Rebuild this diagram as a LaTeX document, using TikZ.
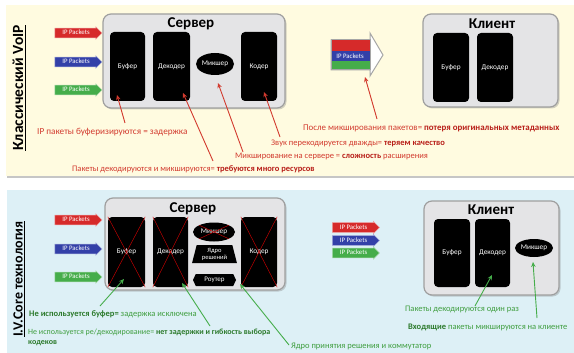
\documentclass[tikz,border=0pt]{standalone}
\usepackage{fontspec}
\setmainfont{Carlito}
\usetikzlibrary{shapes.geometric,shapes.symbols,shapes.arrows,shadows,arrows.meta}
\definecolor{cream}{HTML}{FFFBE0}
\definecolor{paleblue}{HTML}{DDF0F6}
\definecolor{boxgray}{HTML}{E4E4E6}
\definecolor{annred}{HTML}{D23A2E}
\definecolor{annredd}{HTML}{B81E18}
\definecolor{anngreen}{HTML}{3F9E3F}
\definecolor{anngreend}{HTML}{2C7A2C}
\definecolor{ipred}{HTML}{D62A2A}
\definecolor{ipblue}{HTML}{3340A8}
\definecolor{ipgreen}{HTML}{45AD4A}
\tikzset{
  srvbox/.style={draw=gray!75, line width=1.2pt, fill=boxgray, rounded corners=8pt,
    drop shadow={shadow xshift=1.5pt, shadow yshift=-1.5pt, opacity=0.35}},
  blk/.style={fill=black, rounded corners=4pt, text=white, inner sep=0pt,
    font=\fontsize{7.3}{8}\selectfont},
  blkell/.style={ellipse, fill=black, text=white, inner sep=0pt,
    font=\fontsize{7.3}{8}\selectfont},
  boxtitle/.style={font=\fontsize{15}{15}\selectfont\bfseries},
  ipa/.style={single arrow, single arrow head extend=1.2pt, single arrow head indent=0pt,
    minimum height=47pt, text height=5.6pt, text depth=1.8pt, inner ysep=1pt, inner xsep=2pt,
    text=white, font=\fontsize{6.8}{7}\selectfont, draw=white!55!#1, line width=0.5pt, fill=#1},
  anntext/.style={anchor=west, inner sep=0pt, font=\fontsize{8.5}{10}\selectfont},
  redann/.style={anntext, text=annred},
  greenann/.style={anntext, text=anngreen},
  redarr/.style={draw=annred, line width=0.9pt, -{Stealth[length=5pt,width=4.5pt]}},
  greenarr/.style={draw=ipgreen, line width=0.9pt, -{Stealth[length=5pt,width=4.5pt]}},
  xline/.style={draw=red!80!black, line width=0.45pt},
  vtitle/.style={rotate=90, font=\fontsize{14}{14}\selectfont\bfseries, inner sep=0pt}
}
\begin{document}
\begin{tikzpicture}[x=1pt,y=-1pt]
\useasboundingbox (0,0) rectangle (574,353);
\fill[white] (0,0) rectangle (574,353);
% panels
\fill[gray!45] (7,7) rectangle (574,178);
\fill[cream] (6,5) rectangle (574,176);
\fill[paleblue] (7,190) rectangle (574,353);

% titles
\node[vtitle, font=\fontsize{15.5}{15.5}\selectfont\bfseries] (ttl1) at (19,88) {\underline{Классический VoIP}};
\node[vtitle] (ttl2) at (19,279) {\underline{I.V.Core технология}};

% ===== TOP =====
\node[srvbox, minimum width=182pt, minimum height=94pt] (tsrv) at (194,61) {};
\node[boxtitle] (tsrvt) at (191,24) {Сервер};
\node[blk, minimum width=35pt, minimum height=69pt] (tbuf) at (127.5,66.5) {Буфер};
\node[blk, minimum width=37pt, minimum height=69pt] (tdec) at (171.5,66.5) {Декодер};
\node[blkell, minimum width=38pt, minimum height=22pt] (tmix) at (215,64) {Микшер};
\node[blk, minimum width=36pt, minimum height=69pt] (tcod) at (259,66.5) {Кодер};

\node[ipa=ipred] (tip1) at (76,33) {IP Packets\hspace{8pt}};
\node[ipa=ipblue] (tip2) at (76,62) {IP Packets\hspace{8pt}};
\node[ipa=ipgreen] (tip3) at (76,90) {IP Packets\hspace{8pt}};

\node[srvbox, minimum width=135pt, minimum height=93pt] (tcli) at (490.5,60.5) {};
\node[boxtitle] (tclit) at (492,24) {Клиент};
\node[blk, minimum width=36pt, minimum height=69pt] (tcbuf) at (451,67.5) {Буфер};
\node[blk, minimum width=36pt, minimum height=69pt] (tcdec) at (495,67.5) {Декодер};

% mixed packet arrow
\draw[gray!70, line width=1pt, fill=white] (331,40) -- (370,40) -- (370,33) -- (383,55) -- (370,76) -- (370,70) -- (331,70) -- cycle;
\fill[ipred] (331,40) rectangle (370,51.5);
\fill[ipblue] (331,51.5) rectangle (370,61);
\fill[ipgreen] (331,61) rectangle (370,70);
\draw[gray!70, line width=1pt] (331,40) rectangle (370,70);
\node[text=white, font=\fontsize{6.8}{7}\selectfont, inner sep=0pt] (mixpk) at (350,56.3) {IP Packets};

% top annotations
\node[redann, font=\fontsize{9.2}{10}\selectfont] (a1) at (37,132) {IP пакеты буферизируются = задержка};
\node[redann, font=\fontsize{8.9}{10}\selectfont] (a5) at (303,128) {После микширования пакетов= \textcolor{annredd}{\bfseries потеря оригинальных метаданных}};
\node[redann] (a4) at (271,143) {Звук перекодируется дважды= \textcolor{annredd}{\bfseries теряем качество}};
\node[redann] (a3) at (235,156) {Микширование на сервере = \textcolor{annredd}{\bfseries сложность} расширения};
\node[redann] (a2) at (72,169) {Пакеты декодируются и микшируются= \textcolor{annredd}{\bfseries требуются много ресурсов}};

\coordinate (r1s) at (125,123); \coordinate (r1e) at (117,95);
\coordinate (r2s) at (213,161); \coordinate (r2e) at (183,93);
\coordinate (r3s) at (243,152); \coordinate (r3e) at (218,83);
\coordinate (r4s) at (280,137); \coordinate (r4e) at (264,92);
\coordinate (r5s) at (377,119); \coordinate (r5e) at (365,77);
\draw[redarr] (r1s) -- (r1e);
\draw[redarr] (r2s) -- (r2e);
\draw[redarr] (r3s) -- (r3e);
\draw[redarr] (r4s) -- (r4e);
\draw[redarr] (r5s) -- (r5e);

% ===== BOTTOM =====
\node[srvbox, minimum width=180pt, minimum height=92pt] (bsrv) at (195,244) {};
\node[boxtitle] (bsrvt) at (193,209) {Сервер};
\node[blk, minimum width=37pt, minimum height=70pt] (bbuf) at (126.5,252) {Буфер};
\node[blk, minimum width=35pt, minimum height=70pt] (bdec) at (170.5,252) {Декодер};
\node[blkell, minimum width=42pt, minimum height=19pt] (bmix) at (214,232) {Микшер};
\node[trapezium, trapezium left angle=75, trapezium right angle=75, trapezium stretches=true,
  fill=black, text=white, inner sep=0pt, minimum width=45pt, minimum height=18pt,
  align=center, font=\fontsize{6.5}{7}\selectfont] (bcore) at (214.5,254) {Ядро\\решений};
\node[signal, signal to=west and east, signal pointer angle=130, fill=black, text=white,
  inner sep=0pt, minimum width=43pt, minimum height=12pt,
  font=\fontsize{7}{7}\selectfont] (brout) at (214.5,280) {Роутер};
\node[blk, minimum width=36pt, minimum height=70pt] (bcod) at (259,252) {Кодер};

% crosses
\draw[xline] (bbuf.north west) -- (bbuf.south east) (bbuf.north east) -- (bbuf.south west);
\draw[xline] (bdec.north west) -- (bdec.south east) (bdec.north east) -- (bdec.south west);
\draw[xline] (bcod.north west) -- (bcod.south east) (bcod.north east) -- (bcod.south west);
\draw[xline] (bmix.north west) -- (bmix.south east) (bmix.north east) -- (bmix.south west);

\node[ipa=ipred] (bip1) at (76,220) {IP Packets\hspace{8pt}};
\node[ipa=ipblue] (bip2) at (76,249) {IP Packets\hspace{8pt}};
\node[ipa=ipgreen] (bip3) at (76,277) {IP Packets\hspace{8pt}};

\node[ipa=ipred] (mip1) at (353.5,227.5) {IP Packets\hspace{8pt}};
\node[ipa=ipblue] (mip2) at (353.5,240.5) {IP Packets\hspace{8pt}};
\node[ipa=ipgreen] (mip3) at (353.5,253) {IP Packets\hspace{8pt}};

\node[srvbox, minimum width=135pt, minimum height=94pt] (bcli) at (491.5,248) {};
\node[boxtitle] (bclit) at (491,210) {Клиент};
\node[blk, minimum width=36pt, minimum height=68pt] (bcbuf) at (452,253) {Буфер};
\node[blk, minimum width=35pt, minimum height=68pt] (bcdec) at (492.5,253) {Декодер};
\node[blkell, minimum width=38pt, minimum height=18pt] (bcmix) at (534,248) {Микшер};

% bottom annotations
\node[greenann] (b1) at (29,314) {\textcolor{anngreend}{\bfseries Не используется буфер=} задержка исключена};
\node[greenann, anchor=north west, align=left, font=\fontsize{8}{9.5}\selectfont] (b2) at (28,329) {Не используется ре/декодирование= \textcolor{anngreend}{\bfseries нет задержки и гибкость выбора}\\\textcolor{anngreend}{\bfseries кодеков}};
\node[greenann] (b3) at (291,346) {Ядро принятия решения и коммутатор};
\node[greenann] (b4) at (405,309) {Пакеты декодируются один раз};
\node[greenann] (b5) at (408,327) {\textcolor{anngreend}{\bfseries Входящие} пакеты микшируются на клиенте};

\coordinate (g1s) at (100,306); \coordinate (g1e) at (124,279);
\coordinate (g2s) at (210,326); \coordinate (g2e) at (182,283);
\coordinate (g3s) at (289,345); \coordinate (g3e) at (240,284);
\coordinate (g4s) at (475,306); \coordinate (g4e) at (492,275);
\coordinate (g5s) at (537,318); \coordinate (g5e) at (533,262);
\draw[greenarr] (g1s) -- (g1e);
\draw[greenarr] (g2s) -- (g2e);
\draw[greenarr] (g3s) -- (g3e);
\draw[greenarr] (g4s) -- (g4e);
\draw[greenarr] (g5s) -- (g5e);
\end{tikzpicture}
\end{document}
